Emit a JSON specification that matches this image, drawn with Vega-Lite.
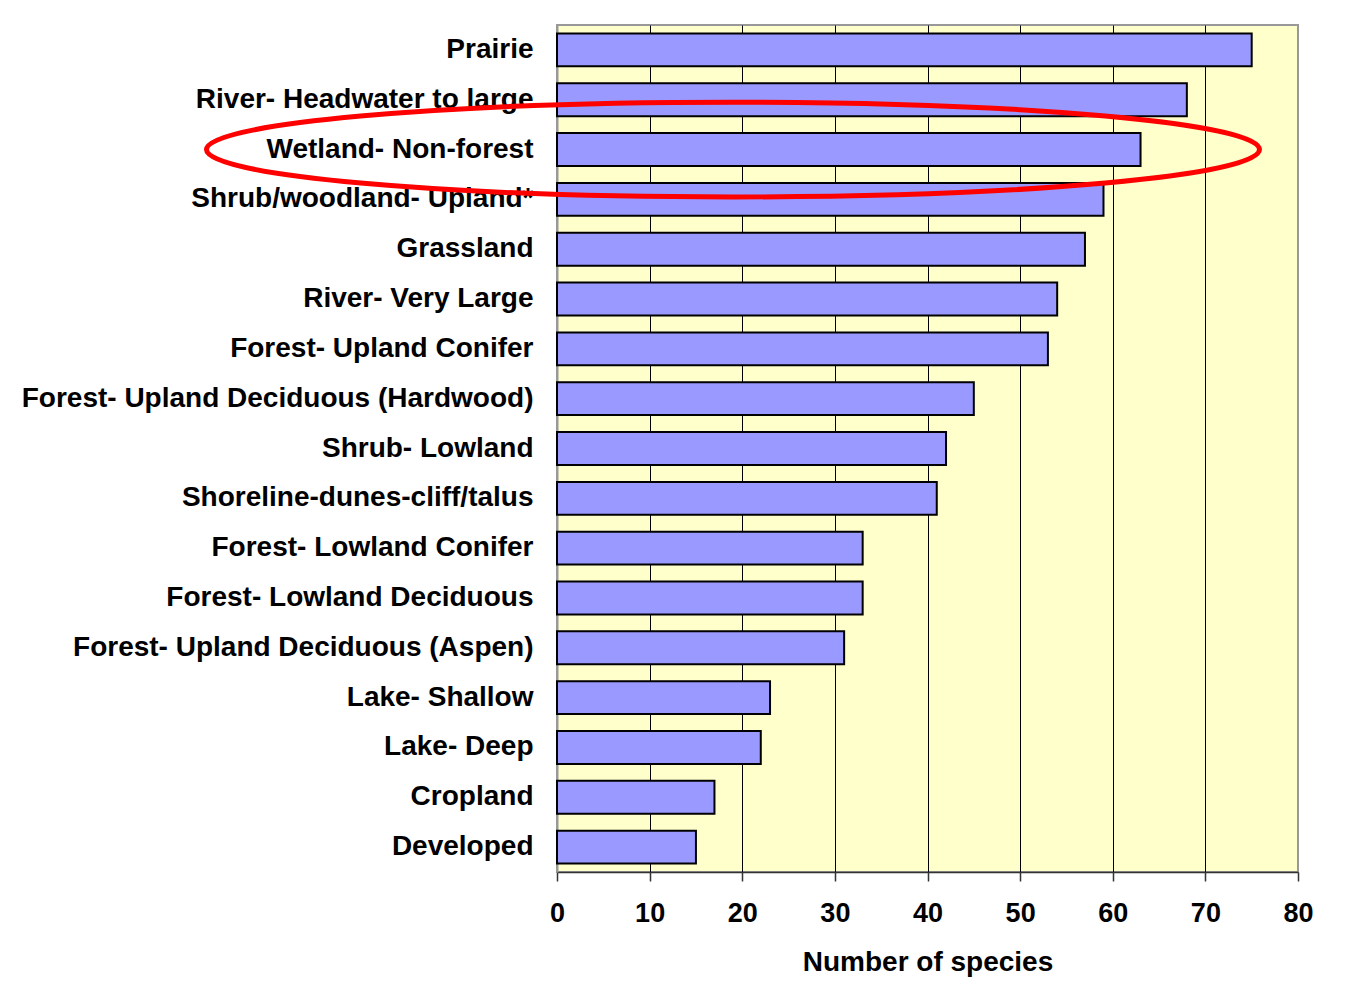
{
  "$schema": "https://vega.github.io/schema/vega-lite/v6.json",
  "width": 741,
  "height": 847,
  "autosize": {"type": "none"},
  "padding": {"left": 557, "top": 25, "right": 47, "bottom": 115},
  "background": "white",
  "config": {
    "view": {"fill": "#FFFFCC", "stroke": "#999999", "strokeWidth": 2},
    "font": "Liberation Sans"
  },
  "datasets": {
    "habitats": [
      {"habitat": "Prairie", "species": 75},
      {"habitat": "River- Headwater to large", "species": 68},
      {"habitat": "Wetland- Non-forest", "species": 63},
      {"habitat": "Shrub/woodland- Upland*", "species": 59},
      {"habitat": "Grassland", "species": 57},
      {"habitat": "River- Very Large", "species": 54},
      {"habitat": "Forest- Upland Conifer", "species": 53},
      {"habitat": "Forest- Upland Deciduous (Hardwood)", "species": 45},
      {"habitat": "Shrub- Lowland", "species": 42},
      {"habitat": "Shoreline-dunes-cliff/talus", "species": 41},
      {"habitat": "Forest- Lowland Conifer", "species": 33},
      {"habitat": "Forest- Lowland Deciduous", "species": 33},
      {"habitat": "Forest- Upland Deciduous (Aspen)", "species": 31},
      {"habitat": "Lake- Shallow", "species": 23},
      {"habitat": "Lake- Deep", "species": 22},
      {"habitat": "Cropland", "species": 17},
      {"habitat": "Developed", "species": 15}
    ],
    "annotation": [
      {"habitat": "Wetland- Non-forest", "species": 19}
    ]
  },
  "layer": [
    {
      "data": {"name": "habitats"},
      "mark": {"type": "bar", "fill": "#9999FF", "stroke": "#000000", "strokeWidth": 2},
      "encoding": {
        "y": {
          "field": "habitat",
          "type": "nominal",
          "sort": null,
          "scale": {
            "domain": ["Prairie", "River- Headwater to large", "Wetland- Non-forest", "Shrub/woodland- Upland*", "Grassland", "River- Very Large", "Forest- Upland Conifer", "Forest- Upland Deciduous (Hardwood)", "Shrub- Lowland", "Shoreline-dunes-cliff/talus", "Forest- Lowland Conifer", "Forest- Lowland Deciduous", "Forest- Upland Deciduous (Aspen)", "Lake- Shallow", "Lake- Deep", "Cropland", "Developed"],
            "paddingInner": 0.34,
            "paddingOuter": 0.17
          },
          "axis": {
            "title": null,
            "ticks": false,
            "tickSize": 0,
            "labelPadding": 24,
            "labelFont": "Liberation Sans",
            "labelFontSize": 28,
            "labelFontWeight": "bold",
            "labelColor": "#000000",
            "labelLimit": 800,
            "domainColor": "#999999",
            "domainWidth": 2,
            "grid": false
          }
        },
        "x": {
          "field": "species",
          "type": "quantitative",
          "scale": {"domain": [0, 80], "nice": false},
          "axis": {
            "title": "Number of species",
            "values": [0, 10, 20, 30, 40, 50, 60, 70, 80],
            "grid": true,
            "gridColor": {"condition": {"test": "datum.value === 0 || datum.value === 80", "value": "transparent"}, "value": "#000000"},
            "gridWidth": 1,
            "tickSize": 9,
            "tickColor": "#333333",
            "tickWidth": 1.5,
            "domainColor": "#333333",
            "domainWidth": 1.5,
            "labelPadding": 19,
            "labelFont": "Liberation Sans",
            "labelFontSize": 27,
            "labelFontWeight": "bold",
            "labelColor": "#000000",
            "labelFlush": false,
            "labelOverlap": false,
            "titleFont": "Liberation Sans",
            "titleFontSize": 28,
            "titleFontWeight": "bold",
            "titleColor": "#000000",
            "titlePadding": 22
          }
        }
      }
    },
    {
      "data": {"name": "annotation"},
      "mark": {
        "type": "point",
        "shape": "M -1 0 C -1 -0.0497 -0.5523 -0.09 0 -0.09 C 0.5523 -0.09 1 -0.0497 1 0 C 1 0.0497 0.5523 0.09 0 0.09 C -0.5523 0.09 -1 0.0497 -1 0 Z",
        "size": 1108809,
        "filled": false,
        "stroke": "#FF0000",
        "strokeWidth": 5,
        "opacity": 1
      },
      "encoding": {
        "y": {"field": "habitat", "type": "nominal"},
        "x": {"field": "species", "type": "quantitative"}
      }
    }
  ]
}
